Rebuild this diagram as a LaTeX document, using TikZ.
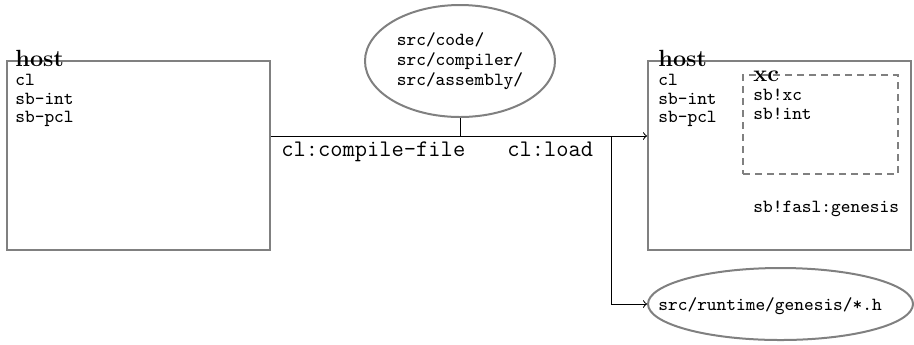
\documentclass[tikz,border=0pt]{standalone}
\usetikzlibrary{shapes.geometric}
\begin{document}
\begin{tikzpicture}[x=0.5pt,y=-0.5pt,
  hostbox/.style={draw=gray, line width=1pt, rectangle, inner sep=0pt,
    minimum width=131.5pt, minimum height=94.5pt},
  xcbox/.style={draw=gray, line width=1pt, dash pattern=on 3.5pt off 2.5pt,
    rectangle, inner sep=0pt, minimum width=77.5pt, minimum height=49.5pt},
  blob/.style={draw=gray, line width=1pt, ellipse, inner sep=0pt},
  title/.style={inner sep=0pt, anchor=base west, font=\fontsize{11.7}{12}\selectfont\bfseries},
  pkgs/.style={inner sep=0pt, anchor=base west, align=left,
    font=\fontsize{9.25}{9.2}\selectfont\ttfamily},
  call/.style={inner sep=0pt, anchor=base west, font=\fontsize{11.9}{12}\selectfont\ttfamily},
  conn/.style={draw=black, line width=0.5pt}]
\useasboundingbox (0,0) rectangle (914,344);

% left host image (multi-line nodes are placed by the baseline of their last line)
\node[hostbox] (lhost) at (138,155.5) {};
\node[title] (lhostt) at (15,66.5) {host};
\node[pkgs] (lpkgs) at (15,122.5) {cl\\sb-int\\sb-pcl};

% right host image with the xc packages
\node[hostbox] (rhost) at (779.5,155.5) {};
\node[title] (rhostt) at (658,66.5) {host};
\node[pkgs] (rpkgs) at (658,122.5) {cl\\sb-int\\sb-pcl};
\node[xcbox] (xc) at (820.5,124.5) {};
\node[title] (xct) at (753,81.5) {xc};
\node[pkgs] (xcpkgs) at (753,119.3) {sb!xc\\sb!int};
\node[pkgs] (genesis) at (753,212) {sb!fasl:genesis};

% source directories
\node[blob, minimum width=95pt, minimum height=56pt, align=left,
  font=\fontsize{9.25}{9.85}\selectfont\ttfamily] (src) at (460,61)
  {src/code/\\src/compiler/\\src/assembly/};

% generated headers
\node[blob, minimum width=132.5pt, minimum height=36pt] (gen) at (780.5,304) {};
\node[pkgs] (gent) at (658,310) {src/runtime/genesis/*.h};

% connectors
\coordinate (jn) at (460,136);
\coordinate (br) at (611,136);
\draw[conn] (src.south) -- (jn);
\draw[conn,->] (lhost.east |- jn) -- (rhost.west |- jn);
\draw[conn,->] (br) |- (gen.west);

\node[call] (cf) at (281,156) {cl:compile-file};
\node[call] (ld) at (507,156) {cl:load};
\end{tikzpicture}
\end{document}
